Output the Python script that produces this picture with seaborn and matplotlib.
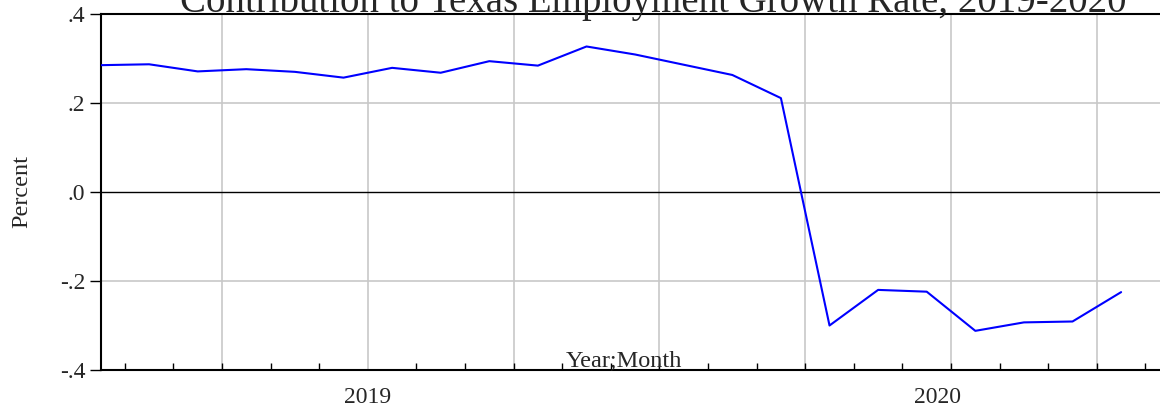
import pandas as pd
import matplotlib.pyplot as plt
import seaborn as sns
from matplotlib.ticker import FixedLocator, FuncFormatter

# monthly contribution, Jan 2019 .. Oct 2020
months = pd.period_range("2019-01", "2020-10", freq="M").strftime("%Y-%m").tolist()
values = [0.285, 0.287, 0.271, 0.276, 0.270, 0.257, 0.279, 0.268, 0.294, 0.284,
          0.327, 0.309, 0.286, 0.263, 0.211, -0.300, -0.220, -0.224, -0.312,
          -0.293, -0.291, -0.225]
year_labels = ["2019", "2020"]
year_label_pos = [5.5, 17.23]
y_ticks = [-0.4, -0.2, 0.0, 0.2, 0.4]

df = pd.DataFrame({"month": months, "value": values})
df["idx"] = range(len(df))

sns.set_style("white")
plt.rcParams["font.family"] = ["Liberation Serif", "DejaVu Serif"]

fig = plt.figure(figsize=(11.6, 4.07), dpi=100)
ax = fig.add_axes([100.5 / 1160, 1 - 370 / 407, 1 - 100.5 / 1160, (370 - 14) / 407])

# quarter gridlines
for q in range(2, len(df), 3):
    ax.axvline(q + 0.5, color="#c8c8c8", lw=1.2, zorder=0)
for v in [-0.2, 0.2]:
    ax.axhline(v, color="#c8c8c8", lw=1.2, zorder=0)
ax.axhline(0, color="black", lw=1, zorder=1)

sns.lineplot(data=df, x="idx", y="value", color="#0000ff", lw=1.5, ax=ax, zorder=3)

ax.set_xlim(0, 21.8)
ax.set_ylim(-0.4, 0.4)
ax.set_yticks(y_ticks)
ax.yaxis.set_major_formatter(FuncFormatter(lambda v, p: f"{v:.1f}".replace("0.", ".")))
ax.set_xticks(year_label_pos)
ax.set_xticklabels(year_labels)
ax.xaxis.set_minor_locator(FixedLocator([i + 0.5 for i in range(len(df))]))
ax.tick_params(axis="x", which="major", length=0, pad=12, labelsize=17)
ax.tick_params(axis="x", which="minor", direction="in", length=5, width=1, color="black", bottom=True)
ax.tick_params(axis="y", direction="out", length=8, width=1, color="black", left=True, labelsize=17, pad=3)

for s in ["left", "bottom", "top"]:
    ax.spines[s].set_color("black")
    ax.spines[s].set_linewidth(1.5)
ax.spines["right"].set_visible(False)

ax.set_xlabel("")
ax.set_ylabel("Percent", fontsize=17.5, labelpad=20)
ax.text((624 - 100.5) / (1160 - 100.5), 0.011, "Year;Month", transform=ax.transAxes,
        ha="center", va="baseline", fontsize=17.5)

fig.text(653 / 1160, 1 - 12 / 407, "Contribution to Texas Employment Growth Rate, 2019-2020",
         ha="center", va="baseline", fontsize=28)

fig.savefig("out.png", dpi=100)
